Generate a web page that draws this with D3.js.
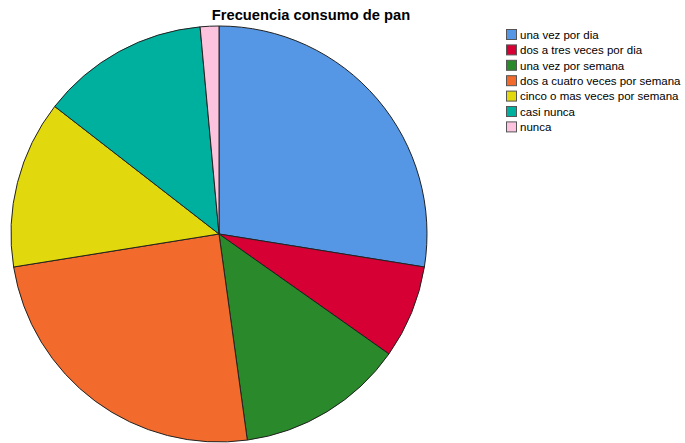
<!DOCTYPE html>
<html><head><meta charset="utf-8">
<script src="https://cdn.jsdelivr.net/npm/d3@7"></script>
<style>body{margin:0;background:#fff;}svg{display:block;}</style>
</head><body>
<svg id="c" width="685" height="443"></svg>
<script>
const categories = ["una vez por dia","dos a tres veces por dia","una vez por semana","dos a cuatro veces por semana","cinco o mas veces por semana","casi nunca","nunca"];
const counts = [19,5,9,17,9,9,1];
const colors = ["#5597e5","#d70034","#2a892a","#f26a2c","#e2d80e","#00b09e","#fbc3de"];

const svg = d3.select("#c");
const cx = 219, cy = 234, r = 208;
const pie = d3.pie().sort(null).value(d=>d)(counts);
const arc = d3.arc().innerRadius(0).outerRadius(r);
const g = svg.append("g").attr("transform",`translate(${cx},${cy})`);
g.selectAll("path").data(pie).join("path")
  .attr("d",arc).attr("fill",(d,i)=>colors[i])
  .attr("stroke","#222").attr("stroke-width",1);

svg.append("text").attr("x",311).attr("y",20).attr("text-anchor","middle")
  .attr("font-family","Liberation Sans, Arial, sans-serif").attr("font-weight","bold")
  .attr("font-size",14.7).attr("fill","#000").text("Frecuencia consumo de pan");

const lg = svg.append("g").attr("transform","translate(506,29)");
const items = lg.selectAll("g").data(categories).join("g")
  .attr("transform",(d,i)=>`translate(0,${i*15.4})`);
items.append("rect").attr("width",10).attr("height",10).attr("x",0.5).attr("y",0.5)
  .attr("fill",(d,i)=>colors[i]).attr("stroke","#555").attr("stroke-width",1);
items.append("text").attr("x",14).attr("y",9.8)
  .attr("font-family","Liberation Sans, Arial, sans-serif").attr("font-size",11.5)
  .attr("fill","#000").text(d=>d);
</script>
</body></html>
